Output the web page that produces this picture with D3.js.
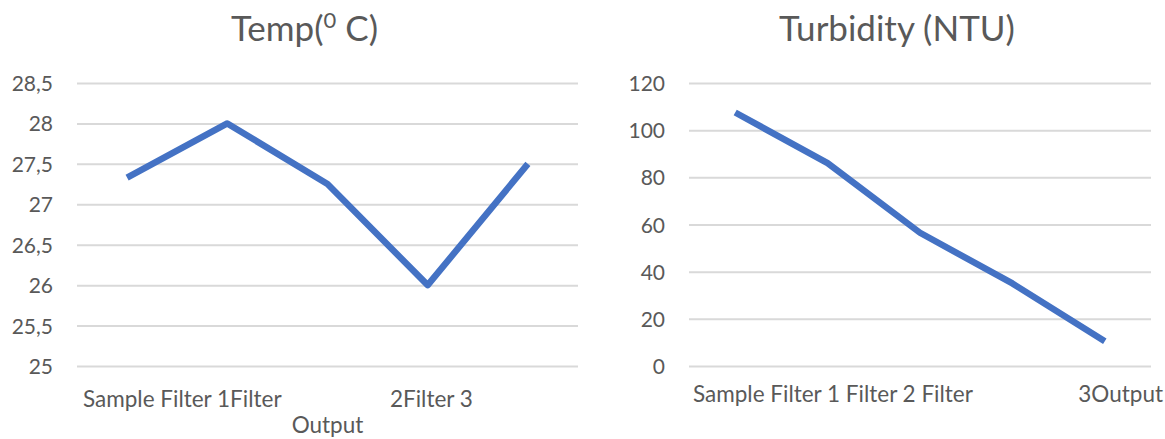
<!DOCTYPE html>
<html>
<head>
<meta charset="utf-8">
<script src="https://cdn.jsdelivr.net/npm/d3@7"></script>
<style>
  html, body { margin: 0; padding: 0; background: #ffffff; }
  svg { display: block; }
  text { font-family: Lato, "Open Sans", sans-serif; fill: #595959; }
</style>
</head>
<body>
<svg id="chart" width="1165" height="439"></svg>
<script>
// Measurements along the treatment chain
const categories = ["Sample", "Filter 1", "Filter 2", "Filter 3", "Output"];
const tempValues = [27.33, 28, 27.25, 26, 27.5];
const turbidityValues = [107.5, 86, 56.5, 35, 10.5];

// Value-axis ticks
const tempTicks = [25, 25.5, 26, 26.5, 27, 27.5, 28, 28.5];
const turbidityTicks = [0, 20, 40, 60, 80, 100, 120];

// Category labels as they wrap under each axis
const tempAxisText = ["Sample Filter 1Filter", "2Filter 3", "Output"];
const turbidityAxisText = ["Sample Filter 1 Filter 2 Filter", "3Output"];

const commaLocale = d3.formatLocale({ decimal: ",", thousands: ".", grouping: [3], currency: ["", ""] });
const fmtComma = commaLocale.format("~g");

const svg = d3.select("#chart");
const lineColor = "#4472C4";
const gridColor = "#d9d9d9";
const labelSize = "22.5px";

function drawPanel(opts) {
  const g = svg.append("g");
  const x = d3.scaleBand().domain(categories).range([opts.left, opts.right]);
  const y = d3.scaleLinear().domain([opts.ticks[0], opts.ticks[opts.ticks.length - 1]]).range([opts.bottom, opts.top]);

  // gridlines and value labels
  g.append("g")
    .attr("transform", `translate(${opts.left},0)`)
    .call(d3.axisLeft(y).tickValues(opts.ticks).tickSize(-(opts.right - opts.left)).tickFormat(opts.format).tickPadding(24))
    .call(a => a.select(".domain").remove())
    .call(a => a.selectAll(".tick line").attr("stroke", gridColor).attr("stroke-width", 2))
    .call(a => a.selectAll(".tick text")
      .attr("fill", "#595959")
      .style("font-family", "Lato, 'Open Sans', sans-serif")
      .style("font-size", "21px")
      .attr("dy", "0.36em"));

  // title
  const title = g.append("text")
    .attr("x", (opts.left + opts.right) / 2 - 23)
    .attr("y", 41)
    .attr("text-anchor", "middle")
    .style("font-size", "35px");
  opts.title(title);

  // series line
  const line = d3.line()
    .x((d, i) => x(categories[i]) + x.bandwidth() / 2)
    .y(d => y(d));
  g.append("path")
    .datum(opts.values)
    .attr("d", line)
    .attr("fill", "none")
    .attr("stroke", lineColor)
    .attr("stroke-width", 6.5)
    .attr("stroke-linejoin", "round")
    .attr("stroke-linecap", "butt");

  opts.labels(g, x);
}

// Temperature panel
drawPanel({
  left: 77, right: 578, top: 83, bottom: 366,
  ticks: tempTicks,
  values: tempValues,
  format: fmtComma,
  title: t => {
    t.append("tspan").text("Temp(");
    t.append("tspan").attr("dy", -13).style("font-size", "22px").text("0");
    t.append("tspan").attr("dy", 13).text(" C)");
  },
  labels: (g, x) => {
    const lab = g.append("g").style("font-size", labelSize);
    lab.append("text").attr("x", x.range()[0] + 6).attr("y", 407).text(tempAxisText[0]);
    lab.append("text").attr("x", x(categories[4]) - 5).attr("y", 407).attr("text-anchor", "end").text(tempAxisText[1]);
    lab.append("text").attr("x", (x.range()[0] + x.range()[1]) / 2).attr("y", 433).attr("text-anchor", "middle").text(tempAxisText[2]);
  }
});

// Turbidity panel
drawPanel({
  left: 689, right: 1151, top: 83, bottom: 366,
  ticks: turbidityTicks,
  values: turbidityValues,
  format: d3.format("d"),
  title: t => t.text("Turbidity (NTU)"),
  labels: (g, x) => {
    const lab = g.append("g").style("font-size", labelSize);
    lab.append("text").attr("x", x.range()[0] + 4).attr("y", 402).text(turbidityAxisText[0]);
    lab.append("text").attr("x", x.range()[1] + 12).attr("y", 402).attr("text-anchor", "end").text(turbidityAxisText[1]);
  }
});
</script>
</body>
</html>
